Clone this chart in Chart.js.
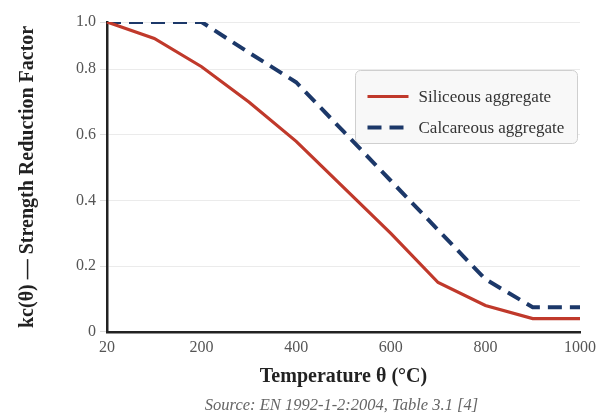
<!DOCTYPE html>
<html>
<head>
<meta charset="utf-8">
<title>Concrete strength reduction factor kc(θ)</title>
<script src="https://cdn.jsdelivr.net/npm/chart.js@4.4.1/dist/chart.umd.min.js"></script>
<style>
  html, body { margin: 0; padding: 0; background: #fff; }
  #wrap { width: 611px; height: 413px; }
</style>
</head>
<body>
<div id="wrap"><canvas id="chart"></canvas></div>
<script>
// temperatures (°C) and kc(θ)
var temperatures = ['20', '100', '200', '300', '400', '500', '600', '700', '800', '900', '1000'];
var siliceous = [1.0, 0.93, 0.81, 0.70, 0.58, 0.44, 0.30, 0.15, 0.08, 0.04, 0.04];
var calcareous = [1.0, 1.0, 1.0, 0.87, 0.76, 0.61, 0.46, 0.31, 0.16, 0.075, 0.075];
var seriesNames = ['Siliceous aggregate', 'Calcareous aggregate'];
var xTickLabels = ['20', '200', '400', '600', '800', '1000'];
var yTickValues = [0, 0.2, 0.4, 0.6, 0.8, 1.0];
var sourceNote = 'Source: EN 1992-1-2:2004, Table 3.1 [4]';

var RED = '#c0392b';
var NAVY = '#1c3869';
var SERIF = '"Liberation Serif", "Times New Roman", serif';

// the reference axis is linear up to 0.8, the 0.8-1.0 band is squeezed
function squash(v) { return v <= 0.8 ? v * 1.06 : 0.848 + (v - 0.8) * 0.76; }
function unsquash(d) { return d <= 0.848 ? d / 1.06 : 0.8 + (d - 0.848) / 0.76; }

var LinearScale = Chart.LinearScale || Chart.registry.getScale('linear');
class SquashedScale extends LinearScale {
  getPixelForValue(value) {
    if (value === null || value === undefined || isNaN(value)) return NaN;
    return this.getPixelForDecimal(squash((value - this.min) / (this.max - this.min)));
  }
  getValueForPixel(pixel) {
    return this.min + unsquash(this.getDecimalForPixel(pixel)) * (this.max - this.min);
  }
}
SquashedScale.id = 'squashed';
SquashedScale.defaults = LinearScale.defaults;
Chart.register(SquashedScale);

var legendBox = {
  id: 'legendBox',
  afterDatasetsDraw: function (chart) {
    var ctx = chart.ctx;
    var area = chart.chartArea;
    var w = 222, h = 73, r = 5;
    var x = Math.round(area.right - w - 3) + 0.5;
    var y = Math.round(area.top + 48) + 0.5;
    ctx.save();
    ctx.beginPath();
    ctx.moveTo(x + r, y);
    ctx.arcTo(x + w, y, x + w, y + h, r);
    ctx.arcTo(x + w, y + h, x, y + h, r);
    ctx.arcTo(x, y + h, x, y, r);
    ctx.arcTo(x, y, x + w, y, r);
    ctx.closePath();
    ctx.fillStyle = '#f8f8f8';
    ctx.fill();
    ctx.strokeStyle = '#cfcfcf';
    ctx.lineWidth = 1;
    ctx.stroke();

    ctx.font = '17px ' + SERIF;
    ctx.textBaseline = 'middle';
    ctx.textAlign = 'left';
    chart.data.datasets.forEach(function (ds, i) {
      var ly = y + 26 + i * 31;
      ctx.beginPath();
      ctx.setLineDash(ds.borderDash || []);
      ctx.lineDashOffset = 0;
      ctx.strokeStyle = ds.borderColor;
      ctx.lineWidth = ds.borderWidth;
      ctx.lineCap = 'butt';
      ctx.moveTo(x + 12, ly);
      ctx.lineTo(x + 53, ly);
      ctx.stroke();
      ctx.setLineDash([]);
      ctx.fillStyle = '#333';
      ctx.fillText(ds.label, x + 63, ly + 1);
    });
    ctx.restore();
  }
};

var sourceLine = {
  id: 'sourceLine',
  afterDraw: function (chart) {
    var ctx = chart.ctx;
    var area = chart.chartArea;
    ctx.save();
    ctx.font = 'italic 16.5px ' + SERIF;
    ctx.fillStyle = '#666';
    ctx.textAlign = 'center';
    ctx.textBaseline = 'middle';
    ctx.fillText(sourceNote, (area.left + area.right) / 2 - 2, chart.height - 7);
    ctx.restore();
  }
};

function drawChart() {
  var ctx = document.getElementById('chart').getContext('2d');
  new Chart(ctx, {
    type: 'line',
    data: {
      labels: temperatures,
      datasets: [{
        label: seriesNames[0],
        data: siliceous,
        borderColor: RED,
        borderWidth: 3.2,
        pointRadius: 0,
        tension: 0,
        fill: false
      }, {
        label: seriesNames[1],
        data: calcareous,
        borderColor: NAVY,
        borderWidth: 4,
        borderDash: [14, 8],
        pointRadius: 0,
        tension: 0,
        fill: false
      }]
    },
    options: {
      responsive: true,
      maintainAspectRatio: false,
      animation: false,
      layout: { padding: { left: 4, right: 31, top: 22, bottom: 24 } },
      plugins: {
        legend: { display: false },
        tooltip: { enabled: false }
      },
      scales: {
        x: {
          type: 'category',
          grid: { display: false, drawTicks: false },
          border: { display: true, color: '#222', width: 2.5 },
          ticks: {
            autoSkip: false,
            maxRotation: 0,
            padding: 6,
            color: '#555',
            font: { family: SERIF, size: 16 },
            callback: function (val, i) {
              var lab = temperatures[i];
              return xTickLabels.indexOf(lab) >= 0 ? lab : '';
            }
          },
          title: {
            display: true,
            text: 'Temperature θ (°C)',
            color: '#222',
            font: { family: SERIF, size: 20, weight: 'bold' },
            padding: { top: 2, bottom: 0 }
          }
        },
        y: {
          type: 'squashed',
          min: 0,
          max: 1,
          afterBuildTicks: function (scale) {
            scale.ticks = yTickValues.map(function (v) { return { value: v }; });
          },
          grid: { color: '#ebebeb', lineWidth: 1, tickLength: 7, tickColor: '#dddddd' },
          border: { display: true, color: '#222', width: 2.5 },
          ticks: {
            padding: 4,
            color: '#555',
            font: { family: SERIF, size: 16 },
            callback: function (v) { return v === 0 ? '0' : v.toFixed(1); }
          },
          title: {
            display: true,
            text: 'kc(θ) — Strength Reduction Factor',
            color: '#222',
            font: { family: SERIF, size: 20, weight: 'bold' },
            padding: { top: 12, bottom: 32 }
          }
        }
      }
    },
    plugins: [legendBox, sourceLine]
  });
}

window.addEventListener('load', function () {
  drawChart();
});
</script>
</body>
</html>
